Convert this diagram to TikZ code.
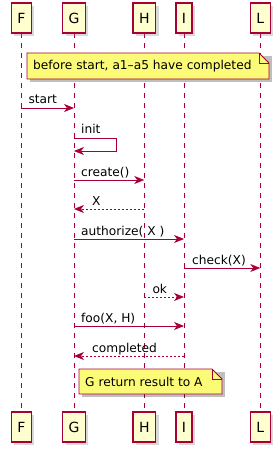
\documentclass[tikz,border=0pt]{standalone}
\usepackage{fontspec}
\setmainfont{DejaVu Sans}
\usetikzlibrary{arrows.meta, positioning, calc, shadows}
\definecolor{umlRed}  {HTML}{A80036}
\definecolor{partBack}{HTML}{FEFECE}
\definecolor{noteBack}{HTML}{FBFB77}

\tikzset{
  actorbox/.style={draw=umlRed, fill=partBack, line width=1.2pt, minimum height=30pt,
    inner xsep=6pt, font=\fontsize{14}{16}\selectfont,
    drop shadow={shadow xshift=3pt, shadow yshift=-3pt, opacity=0.3}},
  lifeline/.style={draw=umlRed, line width=0.8pt, dash pattern=on 5pt off 5pt},
  msg/.style={draw=umlRed, line width=0.8pt, -{Stealth[length=10pt, width=8pt, inset=3pt]}},
  reply/.style={msg, dash pattern=on 2pt off 2pt},
  msglabel/.style={anchor=base west, inner sep=0pt, font=\fontsize{12.2}{14}\selectfont},
  notebox/.style={draw=umlRed, fill=noteBack, line width=0.8pt},
  notetext/.style={anchor=west, inner sep=0pt, font=\fontsize{12.2}{14}\selectfont},
}

% note with a folded corner: name, north west, south east, text
\newcommand{\umlnote}[4]{
  \fill[black, opacity=0.25] ($(#2)+(3,3)$) rectangle ($(#3)+(3,3)$);
  \draw[notebox] (#2) -- ($(#3|-#2)+(-10,0)$) -- ($(#3|-#2)+(0,10)$) -- (#3) -- (#2|-#3) -- cycle;
  \draw[notebox, fill=none] ($(#3|-#2)+(-10,0)$) |- ($(#3|-#2)+(0,10)$);
  \node[notetext] (#1) at ($(#2)!0.5!(#2|-#3)+(6,0)$) {#4};
}

\begin{document}
\begin{tikzpicture}[x=1pt, y=-1pt]
    \useasboundingbox (0,0) rectangle (280,454);
    % participants, top and bottom, with their lifelines
    \foreach \p/\x in {F/21.3, G/74, H/144.3, I/184, L/260.3} {
        \draw[lifeline] (\x,33) -- (\x,412);
        \node[actorbox] (\p-top) at (\x,18) {\p};
        \node[actorbox] (\p-bot) at (\x,427) {\p};
        % one point on the lifeline for each message row
        \foreach \n/\y in {1/108, 2/138, 3/180, 4/209, 5/239, 6/268, 7/297, 8/326, 9/356}
            \coordinate (\p\n) at (\x,\y);
    }

    \coordinate (n1-nw) at (27,53);
    \coordinate (n1-se) at (269,79);
    \umlnote{n1}{n1-nw}{n1-se}{before start, a1–a5 have completed}

    % messages
    \draw[msg] (F1) -- (G1);
    \node[msglabel] (l1) at ([shift={(7pt,4pt)}]F1) {start};
    \draw[msg] (G2) -- ++(42,0) |- ([yshift=-13pt]G2);
    \node[msglabel] (l2) at ([shift={(7pt,4pt)}]G2) {init};
    \draw[msg] (G3) -- (H3);
    \node[msglabel] (l3) at ([shift={(7pt,4pt)}]G3) {create()};
    \draw[reply] (H4) -- (G4);
    \node[msglabel] (l4) at ([shift={(18pt,4pt)}]G4) {X};
    \draw[msg] (G5) -- (I5);
    \node[msglabel] (l5) at ([shift={(7pt,4pt)}]G5) {authorize( X )};
    \draw[msg] (I6) -- (L6);
    \node[msglabel] (l6) at ([shift={(8pt,4pt)}]I6) {check(X)};
    \draw[reply] (H7) -- (I7);
    \node[msglabel] (l7) at ([shift={(8pt,4pt)}]H7) {ok};
    \draw[msg] (G8) -- (I8);
    \node[msglabel] (l8) at ([shift={(7pt,4pt)}]G8) {foo(X, H)};
    \draw[reply] (I9) -- (G9);
    \node[msglabel] (l9) at ([shift={(18pt,4pt)}]G9) {completed};

    \coordinate (n2-nw) at (79,369);
    \coordinate (n2-se) at (222,394);
    \umlnote{n2}{n2-nw}{n2-se}{G return result to A}
\end{tikzpicture}
\end{document}
